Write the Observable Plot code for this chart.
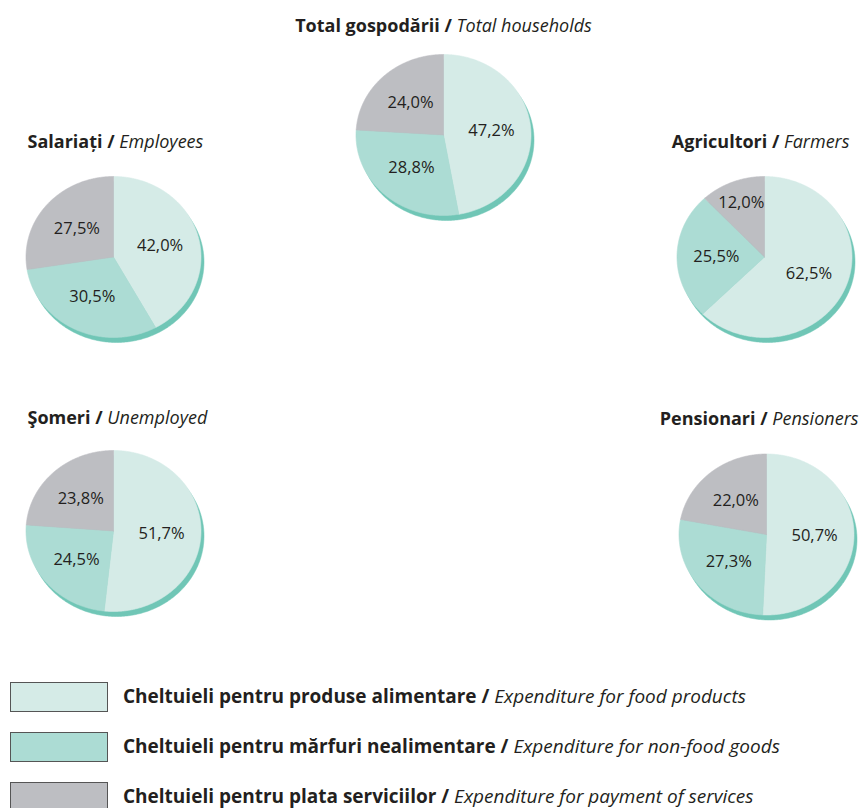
<!DOCTYPE html>
<html>
<head>
<meta charset="utf-8">
<script src="https://cdn.jsdelivr.net/npm/d3@7"></script>
<script src="https://cdn.jsdelivr.net/npm/@observablehq/plot@0.6"></script>
<style>
  html, body { margin: 0; padding: 0; background: #ffffff; }
  body { width: 862px; height: 808px; overflow: hidden; font-family: "Open Sans", sans-serif; color: #231f20; }
  #legend { margin-top: 12px; }
  .row { display: flex; align-items: center; height: 30px; margin: 0 0 20px 10px; }
  .box { width: 98px; height: 30px; box-sizing: border-box; border: 1px solid #555555; flex: none; }
  .txt { margin-left: 15px; font-size: 19px; white-space: nowrap; line-height: 30px; position: relative; top: -1.5px; }
  .txt b { font-weight: 700; }
  .txt i { font-style: italic; font-weight: 400; }
</style>
</head>
<body>
<div id="chart"></div>
<div id="legend"></div>
<script>
// ---- data ----
const groupsRo = ["Total gospodării", "Salariați", "Agricultori", "Şomeri", "Pensionari"];
const groupsEn = ["Total households", "Employees", "Farmers", "Unemployed", "Pensioners"];
const categoriesRo = ["Cheltuieli pentru produse alimentare", "Cheltuieli pentru mărfuri nealimentare", "Cheltuieli pentru plata serviciilor"];
const categoriesEn = ["Expenditure for food products", "Expenditure for non-food goods", "Expenditure for payment of services"];
const food     = [47.2, 42.0, 62.5, 51.7, 50.7];
const nonFood  = [28.8, 30.5, 25.5, 24.5, 27.3];
const services = [24.0, 27.5, 12.0, 23.8, 22.0];

// ---- style / layout ----
const colors = ["#d5ebe7", "#acdcd4", "#bdbec2"];
const shadowColor = "#70c6b6";
const W = 862, H = 670;
const layout = [
  {cx: 443, cy: 134.5, tx: 443, ty: 26,    anchor: "middle"},
  {cx: 113, cy: 256.5, tx: 27,  ty: 141.5, anchor: "start"},
  {cx: 764, cy: 256.5, tx: 849, ty: 141.5, anchor: "end"},
  {cx: 113, cy: 530.5, tx: 27,  ty: 417.5, anchor: "start"},
  {cx: 766, cy: 534,   tx: 858, ty: 418.5, anchor: "end"}
];
const rx = 87.5, ry = 80.5, shadowDx = 3, shadowDy = 5;

const series = [food, nonFood, services];
const sliceRows = [], shadowRows = [], labelRows = [], titleRows = [];
layout.forEach((p, i) => {
  for (let k = 0; k <= 360; k++) {
    const a = k / 180 * Math.PI;
    shadowRows.push({key: "s" + i, x: p.cx + shadowDx + rx * Math.sin(a), y: p.cy + shadowDy - ry * Math.cos(a)});
  }
  let start = 0;
  series.forEach((vals, j) => {
    const v = vals[i];
    const a0 = start / 100 * 2 * Math.PI, a1 = (start + v) / 100 * 2 * Math.PI;
    const n = Math.max(2, Math.ceil((a1 - a0) / (Math.PI / 360)));
    const key = i + "-" + j;
    sliceRows.push({key, cat: categoriesRo[j], x: p.cx, y: p.cy});
    for (let k = 0; k <= n; k++) {
      const a = a0 + (a1 - a0) * k / n;
      sliceRows.push({key, cat: categoriesRo[j], x: p.cx + rx * Math.sin(a), y: p.cy - ry * Math.cos(a)});
    }
    sliceRows.push({key, cat: categoriesRo[j], x: p.cx, y: p.cy});
    const am = (a0 + a1) / 2;
    const f = v < 15 ? 0.72 : 0.55;
    labelRows.push({x: p.cx + f * rx * Math.sin(am), y: p.cy - f * ry * Math.cos(am), text: v.toFixed(1).replace(".", ",") + "%"});
    start += v;
  });
  titleRows.push({x: p.tx, y: p.ty, anchor: p.anchor, text: groupsRo[i] + " / " + groupsEn[i]});
});

const titleMark = anchor => Plot.text(titleRows, {
  filter: d => d.anchor === anchor, x: "x", y: "y", text: "text",
  textAnchor: anchor, fontSize: 18, fill: "#231f20"
});

const chart = Plot.plot({
  width: W, height: H, margin: 0,
  x: {domain: [0, W], range: [0, W], axis: null},
  y: {domain: [0, H], range: [0, H], axis: null},
  color: {domain: categoriesRo, range: colors},
  style: {fontFamily: "'Open Sans', sans-serif", background: "#ffffff", color: "#231f20"},
  marks: [
    Plot.line(shadowRows, {x: "x", y: "y", z: "key", fill: shadowColor, stroke: shadowColor, strokeWidth: 0.5, curve: "linear"}),
    Plot.line(sliceRows, {x: "x", y: "y", z: "key", fill: "cat", stroke: "cat", strokeWidth: 0.6, strokeLinejoin: "miter", curve: "linear"}),
    Plot.text(labelRows, {x: "x", y: "y", text: "text", fontSize: 16.5, fill: "#231f20"}),
    titleMark("middle"), titleMark("start"), titleMark("end")
  ]
});
document.getElementById("chart").appendChild(chart);

// mixed bold / italic titles
const ns = "http://www.w3.org/2000/svg";
const titleTexts = titleRows.map(d => d.text);
chart.querySelectorAll("text").forEach(t => {
  const i = titleTexts.indexOf(t.textContent);
  if (i < 0) return;
  while (t.firstChild) t.removeChild(t.firstChild);
  const b = document.createElementNS(ns, "tspan");
  b.setAttribute("font-weight", "bold");
  b.textContent = groupsRo[i] + " / ";
  const it = document.createElementNS(ns, "tspan");
  it.setAttribute("font-style", "italic");
  it.textContent = groupsEn[i];
  t.setAttribute("xml:space", "preserve");
  t.appendChild(b); t.appendChild(it);
});

// legend
const legend = document.getElementById("legend");
categoriesRo.forEach((c, j) => {
  const row = document.createElement("div");
  row.className = "row";
  const box = document.createElement("span");
  box.className = "box";
  box.style.background = colors[j];
  const txt = document.createElement("span");
  txt.className = "txt";
  const b = document.createElement("b"); b.textContent = c + " / ";
  const i = document.createElement("i"); i.textContent = categoriesEn[j];
  txt.appendChild(b); txt.appendChild(i);
  row.appendChild(box); row.appendChild(txt);
  legend.appendChild(row);
});
</script>
</body>
</html>
